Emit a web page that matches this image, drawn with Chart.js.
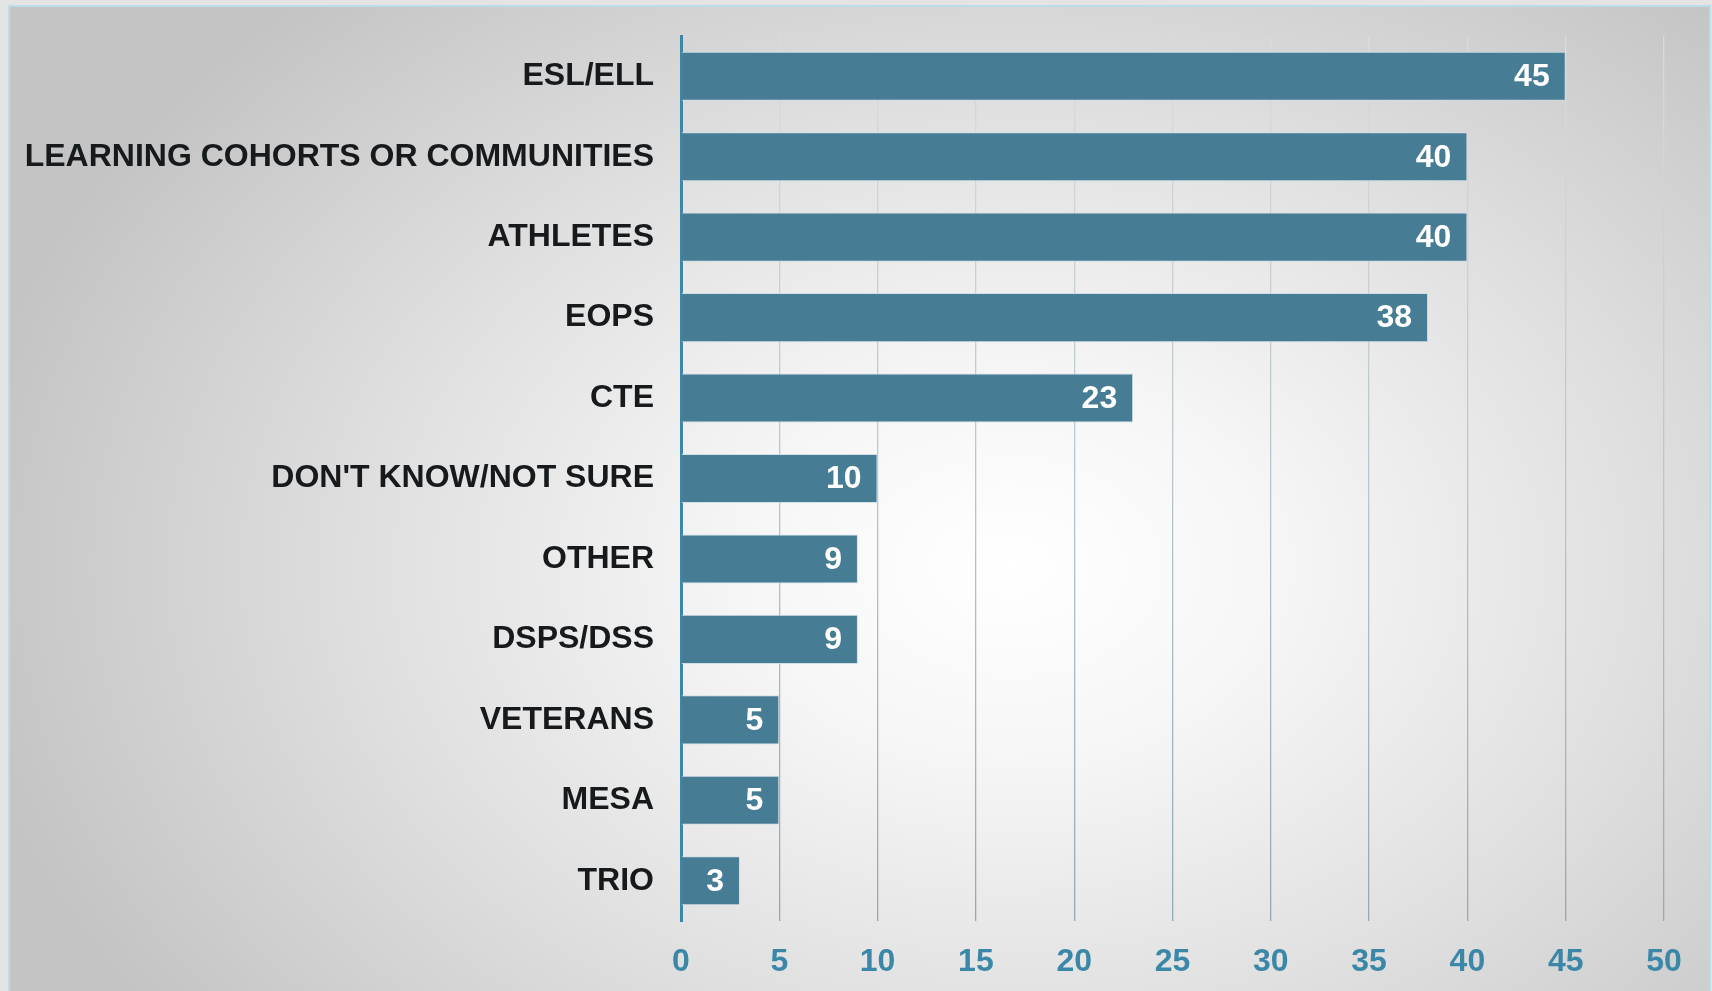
<!DOCTYPE html>
<html>
<head>
<meta charset="utf-8">
<script src="https://cdn.jsdelivr.net/npm/chart.js@4/dist/chart.umd.min.js"></script>
<style>
  html, body { margin:0; padding:0; width:1712px; height:991px; overflow:hidden; background:#e4e4e4; }
  #panel {
    position:absolute; left:8px; top:5px; width:1699px; height:1000px;
    border:2px solid #bcdcea;
    background: radial-gradient(ellipse 1050px 760px at 1000px 560px, #ffffff 0%, #f6f6f6 25%, #e0e0e0 60%, #c4c4c4 100%);
  }
  #c { position:absolute; left:0; top:0; }
</style>
</head>
<body>
<div id="panel"></div>
<canvas id="c" width="1712" height="991"></canvas>
<script>
// categories and values
var categories=["ESL/ELL","LEARNING COHORTS OR COMMUNITIES","ATHLETES","EOPS","CTE","DON'T KNOW/NOT SURE","OTHER","DSPS/DSS","VETERANS","MESA","TRIO"];
var counts=[45,40,40,38,23,10,9,9,5,5,3];
var xTicks=[0,5,10,15,20,25,30,35,40,45,50];

var fontFamily="'Liberation Sans', Arial, sans-serif";

// white value labels inside the right end of each bar
var valueLabels={
    id:'valueLabels',
    afterDatasetsDraw:function(chart){
        var ctx=chart.ctx;
        var meta=chart.getDatasetMeta(0);
        ctx.save();
        ctx.fillStyle='#ffffff';
        ctx.font='bold 32px '+fontFamily;
        ctx.textAlign='right';
        ctx.textBaseline='middle';
        meta.data.forEach(function(bar,i){
            ctx.fillText(String(counts[i]),bar.x-16,bar.y+1);
        });
        ctx.restore();
    }
};

function gridColor(c){
    var area=c.chart.chartArea;
    if(!area) return '#b0bec6';
    var g=c.chart.ctx.createLinearGradient(0,area.top,0,area.bottom);
    g.addColorStop(0,'#d8dcde');
    g.addColorStop(0.5,'#b9c6cd');
    g.addColorStop(1,'#93a9b6');
    return g;
}

var chart=new Chart(document.getElementById('c'),{
    type:'bar',
    data:{
        labels:categories,
        datasets:[{
            data:counts,
            backgroundColor:'#477c95',
            borderColor:'rgba(205,222,230,0.9)',
            borderWidth:{top:1,right:1,bottom:1,left:0},
            borderSkipped:'left',
            barPercentage:0.61,
            categoryPercentage:1
        }]
    },
    options:{
        indexAxis:'y',
        responsive:false,
        animation:false,
        layout:{padding:{left:0,right:48,top:36,bottom:0}},
        plugins:{legend:{display:false},tooltip:{enabled:false}},
        scales:{
            x:{
                min:0,max:50,
                afterBuildTicks:function(s){ s.ticks=xTicks.map(function(v){return {value:v};}); },
                afterFit:function(s){ s.height=70; s.paddingRight=0; },
                grid:{color:gridColor,lineWidth:1.3,drawTicks:false},
                border:{display:false},
                ticks:{color:'#3b87a7',font:{family:fontFamily,size:32,weight:'bold'},padding:22}
            },
            y:{
                afterFit:function(s){ s.width=681; s.paddingTop=0; s.paddingBottom=0; },
                grid:{display:false,drawTicks:false},
                border:{display:true,color:'#3d86a5',width:3},
                ticks:{color:'#161a1c',font:{family:fontFamily,size:32,weight:'bold'},padding:27}
            }
        }
    },
    plugins:[valueLabels]
});
</script>
</body>
</html>
